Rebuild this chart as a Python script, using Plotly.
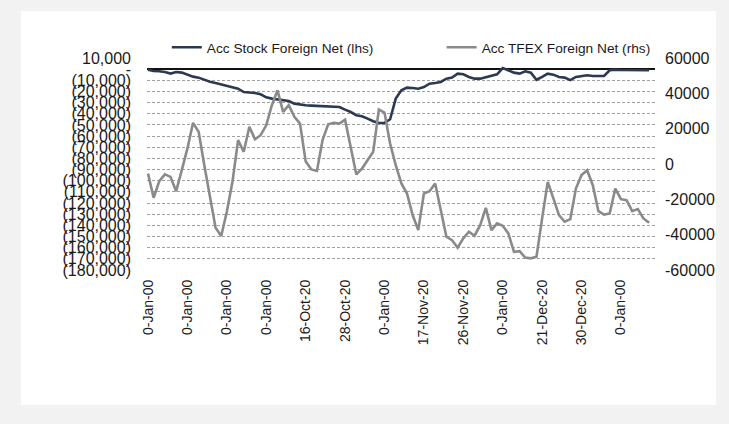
import plotly.graph_objects as go

# ---- data ----
tick_labels = ["0-Jan-00", "0-Jan-00", "0-Jan-00", "0-Jan-00", "16-Oct-20", "28-Oct-20",
               "0-Jan-00", "17-Nov-20", "26-Nov-20", "0-Jan-00", "21-Dec-20", "30-Dec-20",
               "0-Jan-00"]

acc_stock = [-500, -1600, -1900, -2500, -4000, -2500, -3100, -4900, -6700, -7600,
             -9700, -11200, -12400, -13600, -14800, -16000, -17500, -20500, -21000, -21300,
             -22500, -25200, -26400, -27300, -27900, -28500, -30900, -31800, -32400, -32700,
             -33000, -33300, -33900, -33900, -33900, -36300, -38400, -41300, -42200, -44300,
             -46700, -48200, -48200, -44900, -26400, -19000, -16600, -16900, -17500, -16000,
             -13000, -12400, -11500, -8500, -7600, -4000, -4600, -7000, -8500, -8500,
             -7300, -6400, -4600, 1000, -1000, -3100, -4000, -1900, -3100, -9500,
             -7000, -4000, -4900, -7000, -7600, -9800, -7000, -6400, -5500, -6100,
             -6100, -6100, -1000, -500, -700, -700, -1000, -500, -1000, -1000]

acc_tfex = [-5400, -19100, -9700, -5900, -7300, -15400, -3500, 8800, 23300, 18200,
            -700, -19500, -36100, -40800, -27000, -10100, 13500, 6900, 21000, 14000,
            16300, 21900, 33300, 41700, 29500, 33300, 26700, 22900, 1600, -3100,
            -3900, 13500, 22500, 23300, 22900, 25100, 9700, -5900, -2600, 2200,
            6900, 30800, 29100, 11600, -700, -11000, -16700, -28900, -37400, -16700,
            -15400, -11000, -25200, -41200, -43100, -47400, -42100, -38300, -40600, -34600,
            -24800, -37400, -33600, -35000, -39300, -49700, -49300, -53000, -53400, -52500,
            -30800, -10100, -19500, -28900, -32700, -31200, -13900, -6300, -3500, -12000,
            -26700, -28600, -28000, -13900, -19900, -20500, -26700, -25500, -30800, -33300]

tick_step = 7
left_ticks = list(range(-180000, 10001, 10000))
right_ticks = list(range(-60000, 60001, 20000))


def fmt_left(v):
    if v == 0:
        return "-"
    if v < 0:
        return "({:,})".format(-v)
    return "{:,}".format(v)


x = list(range(len(acc_stock)))
tickvals = [i * tick_step for i in range(len(tick_labels))]

fig = go.Figure()
fig.add_trace(go.Scatter(
    x=x, y=acc_stock, mode="lines", name="Acc Stock Foreign Net (lhs)",
    line=dict(color="#2b3a50", width=2.6), yaxis="y", legend="legend", showlegend=True))
fig.add_trace(go.Scatter(
    x=x, y=acc_tfex, mode="lines", name="Acc TFEX Foreign Net (rhs)",
    line=dict(color="#8a8a8a", width=2.6), yaxis="y2", legend="legend2", showlegend=True))

font_family = "Liberation Sans, Arial, sans-serif"

fig.update_layout(
    width=729, height=424,
    showlegend=True,
    margin=dict(l=147, r=74, t=58, b=154, autoexpand=False),
    paper_bgcolor="#f2f2f2",
    plot_bgcolor="rgba(0,0,0,0)",
    font=dict(family=font_family, color="#1a1a1a"),
    xaxis=dict(
        range=[-0.18, 90.05], tickmode="array", tickvals=tickvals, ticktext=tick_labels,
        tickangle=-90, tickfont=dict(size=14, color="#1a1a1a"), showgrid=False,
        zeroline=False, showline=False, ticks="", ticklabelstandoff=6),
    yaxis=dict(
        range=[-180000, 10000], tickmode="array", tickvals=left_ticks,
        ticktext=[fmt_left(v) for v in left_ticks], tickfont=dict(size=16, color="#1a1a1a"),
        showgrid=True, gridcolor="#a0a0a0", gridwidth=1, griddash="3px,2px",
        zeroline=True, zerolinecolor="#111111", zerolinewidth=1.5,
        showline=False, ticks="", ticklabelstandoff=15),
    yaxis2=dict(
        range=[-60000, 60000], overlaying="y", side="right", tickmode="array",
        tickvals=right_ticks, ticktext=[str(v) for v in right_ticks],
        tickfont=dict(size=16, color="#1a1a1a"), showgrid=False, zeroline=False,
        showline=False, ticks="", ticklabelstandoff=9),
    legend=dict(x=0.039, y=1.05, xanchor="left", yanchor="middle", orientation="h",
                bgcolor="rgba(0,0,0,0)", font=dict(size=13.7, color="#1a1a1a"),
                visible=True),
    legend2=dict(x=0.580, y=1.05, xanchor="left", yanchor="middle", orientation="h",
                 bgcolor="rgba(0,0,0,0)", font=dict(size=13.7, color="#1a1a1a"),
                 visible=True),
    shapes=[dict(type="rect", xref="paper", yref="paper",
                 x0=(21 - 147) / 508, x1=(716 - 147) / 508,
                 y0=(270 - 405) / 212, y1=(270 - 11) / 212,
                 fillcolor="white", line=dict(width=0), layer="below")],
)

fig.write_html(
    "out.html",
    config={"displayModeBar": False},
    post_script="document.body.style.margin='0';document.body.style.background='#f2f2f2';",
)
